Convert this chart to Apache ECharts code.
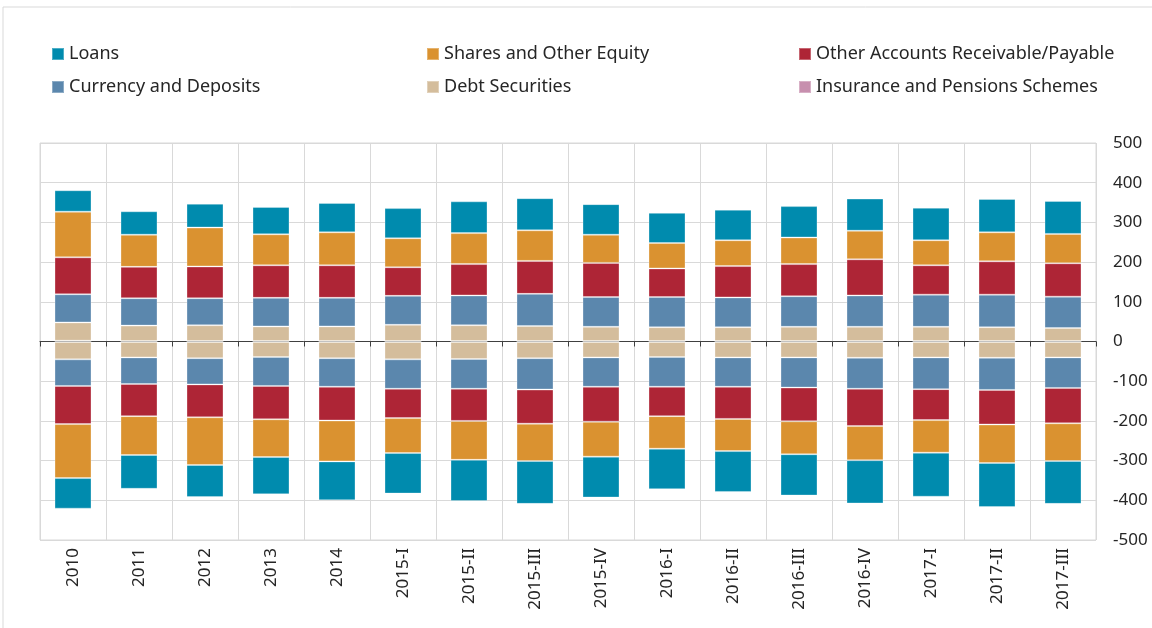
<!DOCTYPE html>
<head>
    <meta charset="utf-8">
    <script type="text/javascript" src="https://cdn.jsdelivr.net/npm/echarts@6/dist/echarts.min.js"></script>
    <style>
        body { margin: 0; background: #fff; }
    </style>
</head>
<body>
	<div id="main" style="width:1152px; height:628px"></div>
	<script type="text/javascript">
		var categories = ["2010", "2011", "2012", "2013", "2014", "2015-I", "2015-II", "2015-III", "2015-IV",
			"2016-I", "2016-II", "2016-III", "2016-IV", "2017-I", "2017-II", "2017-III"];

		// assets (above zero)
		var debtPos     = [46, 39, 40, 37, 37, 41, 40, 38, 36, 35, 35, 36, 36, 36, 35, 33];
		var currencyPos = [71, 69, 68, 72, 72, 73, 75, 81, 75, 76, 75, 77, 79, 81, 82, 79];
		var otherPos    = [93, 79, 80, 82, 82, 72, 79, 83, 86, 72, 79, 81, 91, 74, 84, 84];
		var sharesPos   = [115, 81, 98, 78, 83, 73, 78, 77, 71, 64, 65, 67, 72, 63, 73, 74];
		var loansPos    = [54, 59, 60, 69, 74, 76, 80, 81, 77, 76, 77, 79, 81, 82, 84, 83];
		var insurPos    = [2, 1, 1, 1, 1, 1, 1, 1, 1, 1, 1, 1, 1, 1, 1, 1];

		// liabilities (below zero)
		var debtNeg     = [-44, -39, -41, -38, -41, -44, -43, -41, -39, -38, -39, -39, -40, -39, -40, -39];
		var currencyNeg = [-67, -67, -66, -73, -72, -74, -75, -79, -74, -75, -74, -76, -78, -80, -81, -77];
		var otherNeg    = [-96, -81, -83, -84, -85, -74, -81, -86, -88, -74, -81, -85, -94, -78, -87, -89];
		var sharesNeg   = [-136, -98, -120, -95, -103, -88, -98, -94, -88, -82, -81, -83, -86, -82, -97, -95];
		var loansNeg    = [-77, -85, -81, -94, -98, -102, -104, -108, -103, -102, -103, -104, -109, -111, -111, -108];
		var insurNeg    = [-1, -1, -1, -1, -1, -1, -1, -1, -1, -1, -1, -1, -1, -1, -1, -1];

		var colors = {
			"Loans": "#008bae",
			"Shares and Other Equity": "#da9230",
			"Other Accounts Receivable/Payable": "#ae2536",
			"Currency and Deposits": "#5b87ad",
			"Debt Securities": "#d4bd9c",
			"Insurance and Pensions Schemes": "#c78fae"
		};

		// stacking order from zero outward
		var stackList = [
			["Insurance and Pensions Schemes", insurPos, insurNeg],
			["Debt Securities", debtPos, debtNeg],
			["Currency and Deposits", currencyPos, currencyNeg],
			["Other Accounts Receivable/Payable", otherPos, otherNeg],
			["Shares and Other Equity", sharesPos, sharesNeg],
			["Loans", loansPos, loansNeg]
		];

		var series = [];
		for (var i = 0; i < stackList.length; i++) {
			var nm = stackList[i][0];
			for (var k = 1; k <= 2; k++) {
				series.push({
					name: nm,
					type: 'bar',
					stack: 'total',
					barWidth: 37,
					xAxisIndex: 0,
					data: stackList[i][k],
					itemStyle: {
						color: colors[nm],
						borderColor: 'rgba(255,255,255,0.3)',
						borderWidth: 1
					}
				});
			}
		}

		var legendText = {
			color: '#262626',
			fontFamily: 'Noto Sans',
			fontSize: 18,
			lineHeight: 20
		};
		function legendCol(x, names) {
			return {
				orient: 'vertical',
				left: x,
				top: 44,
				padding: 0,
				itemWidth: 12,
				itemHeight: 12,
				itemGap: 13,
				icon: 'rect',
				data: names,
				textStyle: legendText
			};
		}

		var myChart = echarts.init(document.getElementById('main'));
		var option = {
			animation: false,
			graphic: [{
				type: 'rect',
				shape: { x: 3, y: 7, width: 1170, height: 640 },
				style: { fill: 'none', stroke: '#d9d9d9', lineWidth: 1 },
				silent: true
			}],
			legend: [
				legendCol(51, ["Loans", "Currency and Deposits"]),
				legendCol(426, ["Shares and Other Equity", "Debt Securities"]),
				legendCol(798, ["Other Accounts Receivable/Payable", "Insurance and Pensions Schemes"])
			],
			grid: {
				left: 40,
				right: 56,
				top: 143,
				bottom: 88,
				show: true,
				borderColor: '#d9d9d9',
				borderWidth: 1
			},
			xAxis: [
				{
					type: 'category',
					data: categories,
					axisLine: { onZero: true, lineStyle: { color: '#404040', width: 1 } },
					axisTick: { show: true, length: 5, lineStyle: { color: '#404040' } },
					axisLabel: { show: false },
					splitLine: { show: true, lineStyle: { color: '#d9d9d9' } }
				},
				{
					type: 'category',
					data: categories,
					position: 'bottom',
					axisLine: { show: false, onZero: false },
					axisTick: { show: false },
					splitLine: { show: false },
					axisLabel: {
						rotate: 90,
						margin: 8,
						interval: 0,
						color: '#262626',
						fontFamily: 'Noto Sans',
						fontSize: 17
					}
				}
			],
			yAxis: {
				type: 'value',
				position: 'right',
				min: -500,
				max: 500,
				interval: 100,
				axisLine: { show: false },
				axisTick: { show: false },
				splitLine: { lineStyle: { color: '#d9d9d9' } },
				axisLabel: {
					margin: 17,
					color: '#262626',
					fontFamily: 'Noto Sans',
					fontSize: 17
				}
			},
			series: series
		};

		myChart.setOption(option);
	</script>
</body>
